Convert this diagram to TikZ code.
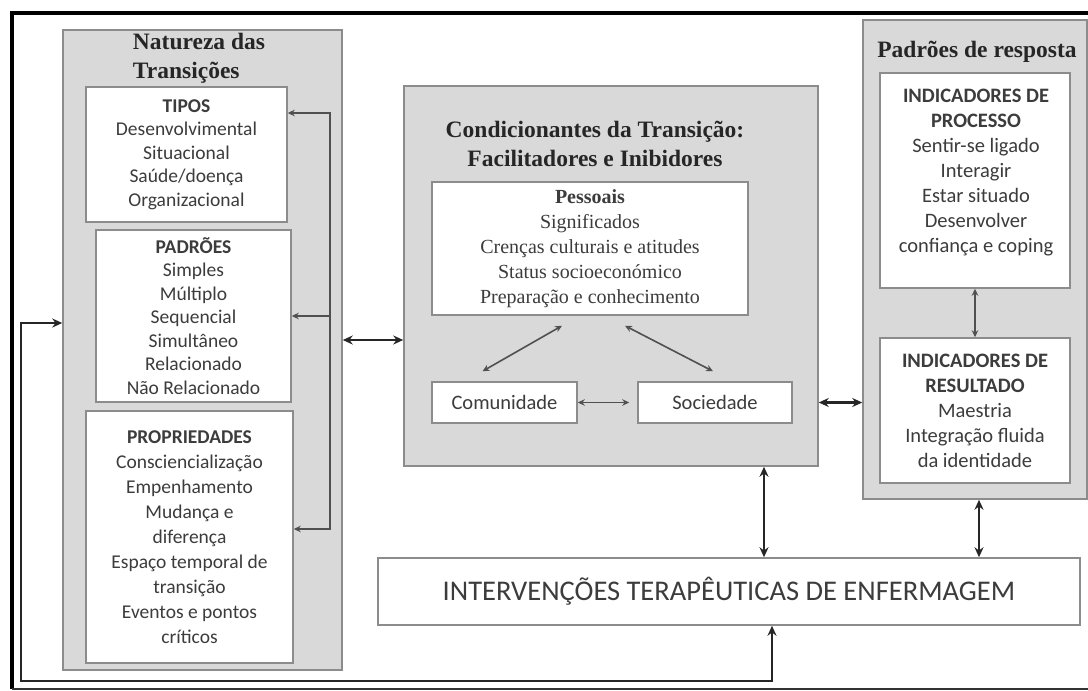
\documentclass[tikz,border=0pt]{standalone}
\usepackage{fontspec}
\usepackage{tikz}
\setmainfont{Liberation Serif}
\newfontfamily\carlito{Carlito}
\definecolor{panelgray}{RGB}{217, 217, 217}
\definecolor{edgegray}{RGB}{140, 140, 140}
\definecolor{inkgray}{RGB}{60, 60, 60}
\definecolor{linkgray}{RGB}{80, 80, 80}
\usetikzlibrary{arrows.meta, positioning}

\begin{document}
\begin{tikzpicture}[
        x=1pt, y=-1pt,
        every node/.style={text=inkgray},
        panel/.style={rectangle, draw=edgegray, fill=panelgray, line width=1.5pt},
        box/.style={rectangle, draw=edgegray, fill=white, line width=1.5pt, align=center, inner sep=0pt},
        leftfont/.style={font=\carlito\fontsize{19.5}{23.5}\selectfont},
        rightfont/.style={font=\carlito\fontsize{20.5}{25}\selectfont},
        serifbody/.style={font=\fontsize{20}{25}\selectfont},
        heading/.style={font=\bfseries\fontsize{23.5}{29}\selectfont, text=black!85, align=center},
        arrow/.style={line width=2.8pt, <->, >={Stealth[length=10pt, width=9pt]}, color=black!85},
        thinarrow/.style={line width=1.6pt, <->, >={Stealth[length=7pt, width=6.5pt]}, color=linkgray}
    ]
        \useasboundingbox (0,0) rectangle (1088,691);

        % Outer frame
        \draw[line width=4pt] (1095,13) -- (12,13) -- (12,689);
        \draw[line width=1.5pt, color=black!80] (12,689) -- (1095,689);

        % Panels
        \node[panel, minimum width=279pt, minimum height=640pt] (nature) at (202.5,350) {};
        \node[panel, minimum width=414pt, minimum height=380pt] (cond) at (611,276) {};
        \node[panel, minimum width=224pt, minimum height=479pt] (resp) at (975,259.5) {};

        % Headings
        \node[heading, align=left] (natureT) at (199,58) {Natureza das\\Transições};
        \node[heading] (condT) at (595,144) {Condicionantes da Transição:\\Facilitadores e Inibidores};
        \node[heading] (respT) at (977,52) {Padrões de resposta};

        % Natureza das transicoes
        \node[box, leftfont, minimum width=201pt, minimum height=135pt] (tipos) at (186.5,154.5) {\textbf{TIPOS}\\Desenvolvimental\\Situacional\\Saúde/doença\\Organizacional};
        \node[box, leftfont, minimum width=195pt, minimum height=172pt] (padroes) at (193.5,316) {\textbf{PADRÕES}\\Simples\\Múltiplo\\Sequencial\\Simultâneo\\Relacionado\\Não Relacionado};
        \node[box, font=\carlito\fontsize{19.5}{25}\selectfont, minimum width=207pt, minimum height=252pt] (props) at (189.5,537) {\textbf{PROPRIEDADES}\\Consciencialização\\Empenhamento\\Mudança e\\diferença\\Espaço temporal de\\transição\\Eventos e pontos\\críticos};

        % Condicionantes
        \node[box, serifbody, minimum width=316pt, minimum height=133pt] (pessoais) at (590,248.5) {\textbf{Pessoais}\\Significados\\Crenças culturais e atitudes\\Status socioeconómico\\Preparação e conhecimento};
        \node[box, rightfont, minimum width=145pt, minimum height=41pt] (comun) at (504.5,402.5) {Comunidade};
        \node[box, rightfont, minimum width=154pt, minimum height=41pt] (socied) at (715,402.5) {Sociedade};

        % Padroes de resposta
        \node[box, minimum width=190pt, minimum height=215pt] (proc) at (975,180.5) {};
        \node[rightfont, align=center] (proctxt) at (976,172.5) {\textbf{INDICADORES DE}\\\textbf{PROCESSO}\\Sentir-se ligado\\Interagir\\Estar situado\\Desenvolver\\confiança e coping};
        \node[box, rightfont, minimum width=190pt, minimum height=145pt] (result) at (975,410.5) {\textbf{INDICADORES DE}\\\textbf{RESULTADO}\\Maestria\\Integração fluida\\da identidade};

        % Intervencoes
        \node[box, font=\carlito\fontsize{28.5}{34}\selectfont, minimum width=702pt, minimum height=67pt] (interv) at (729,591.5) {INTERVENÇÕES TERAPÊUTICAS DE ENFERMAGEM};

        % Relationships
        \coordinate (brktop) at (330,113);
        \coordinate (brkbot) at (330,529);
        \coordinate (fb) at (21,681);
        \draw[thinarrow] (tipos.east |- brktop) -- (brktop) -- (brkbot) -- (props.east |- brkbot);
        \draw[thinarrow, ->] (padroes.east -| brktop) -- (padroes.east);
        \draw[arrow] ([yshift=10pt]nature.east) -- ([yshift=10pt]nature.east -| cond.west);
        \draw[thinarrow] ([shift={(-22,-10)}]comun.north) -- ([shift={(-28,10)}]pessoais.south);
        \draw[thinarrow] ([shift={(35,10)}]pessoais.south) -- ([shift={(-2,-10)}]socied.north);
        \draw[thinarrow] (comun.east) -- ([xshift=-8pt]socied.west);
        \draw[arrow] (cond.east |- socied) -- (resp.west |- socied);
        \draw[thinarrow] (proc.south) -- (result.north);
        \draw[arrow] ([xshift=153pt]cond.south) -- ([xshift=153pt]cond.south |- interv.north);
        \draw[arrow] ([xshift=4pt]resp.south) -- ([xshift=4pt]resp.south |- interv.north);
        \draw[arrow] ([yshift=27pt]nature.west) -| (fb) -| ([xshift=43pt]interv.south);

    \end{tikzpicture}
\end{document}
